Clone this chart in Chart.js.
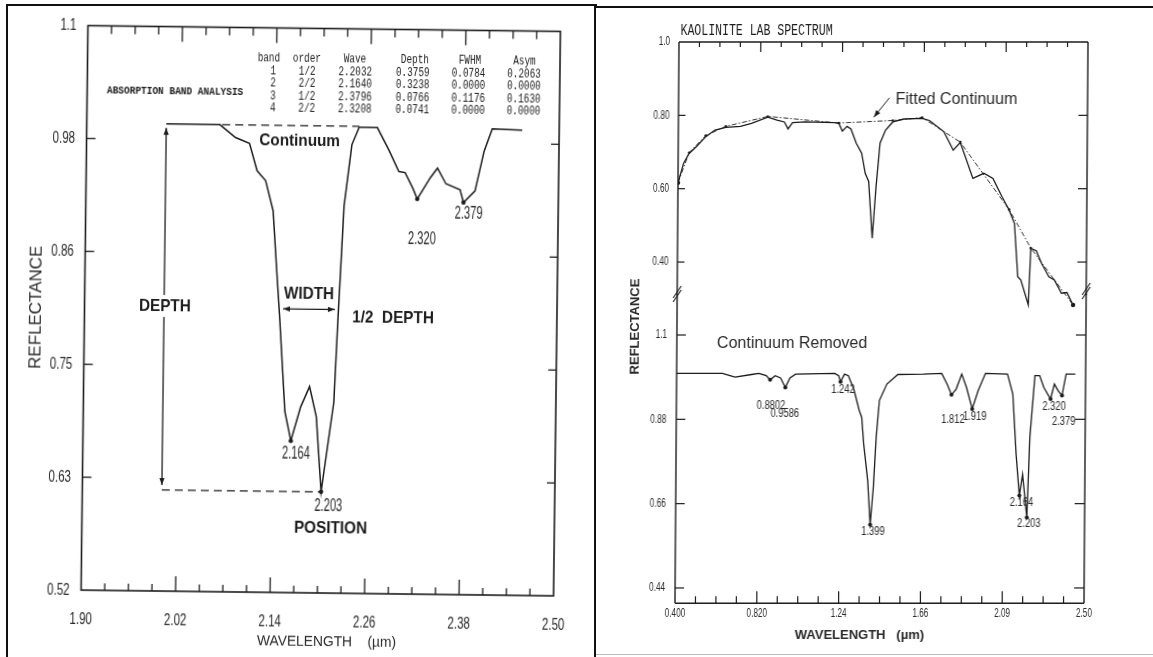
<!DOCTYPE html>
<html>
<head>
<meta charset="utf-8">
<title>Absorption band analysis – kaolinite</title>
<script src="https://cdn.jsdelivr.net/npm/chart.js@4.4.1/dist/chart.umd.min.js"></script>
<style>
html,body{margin:0;padding:0;background:#fff;}
body{width:1153px;height:657px;position:relative;overflow:hidden;}
#leftWrap{position:absolute;left:0;top:0;width:595px;height:657px;transform:rotate(0.7deg);transform-origin:320.75px 310.75px;}
#rightWrap{position:absolute;left:595px;top:0;width:558px;height:657px;transform:skewX(-0.41deg);transform-origin:0 322px;}
canvas{position:absolute;left:0;top:0;}
.fr{position:absolute;background:#111;}
</style>
</head>
<body>
<div id="leftWrap"><canvas id="cL" width="595" height="657"></canvas></div>
<div id="rightWrap"><canvas id="cRT" width="558" height="657"></canvas><canvas id="cRB" width="558" height="657"></canvas></div>
<div class="fr" style="left:6px;top:4px;width:591px;height:2px"></div>
<div class="fr" style="left:6px;top:4px;width:2px;height:653px"></div>
<div class="fr" style="left:594px;top:4px;width:2px;height:653px"></div>
<div class="fr" style="left:596px;top:6px;width:557px;height:2px"></div>
<div class="fr" style="left:596px;top:654px;width:557px;height:1px;background:#bbb"></div>
<script>
// ================= DATA =================
// Left panel: continuum-removed 2.0-2.45 µm region (absorption band analysis)
const leftWave = [2.001,2.069,2.089,2.107,2.117,2.128,2.138,2.143,2.148,2.156,2.164,2.176,2.187,2.196,2.2032,2.218,2.222,2.228,2.237,2.246,2.269,2.284,2.297,2.305,2.315,2.3208,2.337,2.346,2.357,2.375,2.3796,2.394,2.405,2.415,2.453];
const leftRefl = [1.000,1.000,0.987,0.981,0.953,0.943,0.912,0.856,0.802,0.706,0.676,0.711,0.732,0.701,0.624,0.716,0.802,0.918,0.981,0.999,0.999,0.976,0.954,0.953,0.937,0.926,0.948,0.958,0.942,0.936,0.923,0.935,0.976,0.999,0.998];
const leftMinWave = [2.164,2.2032,2.3208,2.3796];
const leftMinRefl = [0.676,0.624,0.926,0.923];
const leftMinLabels = ['2.164','2.203','2.320','2.379'];
const leftContWave = [2.072,2.246];
const leftContRefl = [1.000,1.000];
const leftBaseWave = [2.001,2.2032];
const leftBaseRefl = [0.624,0.624];

// Band analysis table
const tblHeader = ['band','order','Wave','Depth','FWHM','Asym'];
const bandNo    = ['1','2','3','4'];
const bandOrder = ['1/2','2/2','1/2','2/2'];
const bandWave  = ['2.2032','2.1640','2.3796','2.3208'];
const bandDepth = ['0.3759','0.3238','0.0766','0.0741'];
const bandFWHM  = ['0.0784','0.0000','0.1176','0.0000'];
const bandAsym  = ['0.2063','0.0000','0.1630','0.0000'];

// Left axes
const leftXTicks  = [1.90,2.02,2.14,2.26,2.38,2.50];
const leftXLabels = ['1.90','2.02','2.14','2.26','2.38','2.50'];
const leftXMinor  = [1.93,1.96,1.99,2.05,2.08,2.11,2.17,2.20,2.23,2.29,2.32,2.35,2.41,2.44,2.47];
const leftYTicks  = [0.52,0.636,0.752,0.868,0.984,1.10];
const leftYLabels = ['0.52','0.63','0.75','0.86','0.98','1.1'];

// Right panel, top: kaolinite lab spectrum + fitted continuum
const topWave = [0.400,0.428,0.456,0.494,0.541,0.588,0.644,0.719,0.775,0.859,0.906,0.944,0.963,0.986,1.051,1.201,1.224,1.242,1.266,1.286,1.314,1.342,1.361,1.379,1.399,1.417,1.436,1.464,1.501,1.558,1.651,1.689,1.764,1.812,1.848,1.867,1.914,1.970,2.017,2.064,2.101,2.129,2.148,2.164,2.203,2.214,2.242,2.270,2.308,2.336,2.373,2.401,2.433];
const topRefl = [0.616,0.669,0.696,0.715,0.742,0.760,0.767,0.770,0.778,0.795,0.787,0.782,0.763,0.780,0.782,0.780,0.778,0.757,0.770,0.763,0.724,0.697,0.642,0.620,0.465,0.605,0.724,0.760,0.782,0.790,0.792,0.786,0.755,0.705,0.726,0.698,0.628,0.642,0.628,0.578,0.542,0.505,0.360,0.351,0.283,0.437,0.431,0.396,0.360,0.351,0.315,0.317,0.283];
const contWave = [0.400,0.456,0.541,0.644,0.859,1.224,1.501,1.651,1.848,2.101,2.214,2.433];
const contRefl = [0.616,0.698,0.745,0.770,0.797,0.779,0.786,0.794,0.727,0.543,0.438,0.283];

// Right panel, bottom: continuum removed
const botWave = [0.400,0.635,0.700,0.785,0.822,0.860,0.8802,0.906,0.934,0.9586,0.982,1.011,1.212,1.232,1.242,1.262,1.282,1.310,1.339,1.352,1.363,1.385,1.399,1.414,1.427,1.442,1.480,1.536,1.667,1.761,1.789,1.812,1.836,1.864,1.889,1.919,1.949,1.986,2.099,2.127,2.146,2.164,2.180,2.2032,2.216,2.240,2.264,2.286,2.3208,2.340,2.359,2.3796,2.400,2.447];
const botRefl = [1.000,1.000,0.990,0.997,1.000,0.994,0.983,0.994,0.988,0.963,0.988,0.998,1.000,0.994,0.978,0.998,0.994,0.959,0.903,0.885,0.816,0.720,0.605,0.702,0.833,0.929,0.972,0.997,0.998,1.000,0.972,0.944,0.959,0.998,0.963,0.907,0.955,1.000,0.998,0.946,0.789,0.681,0.736,0.624,0.833,0.994,0.994,0.963,0.933,0.972,0.955,0.942,0.998,0.998];
const botMinWave = [0.8802,0.9586,1.242,1.399,1.812,1.919,2.164,2.2032,2.3208,2.3796];
const botMinRefl = [0.983,0.963,0.978,0.605,0.944,0.907,0.681,0.624,0.933,0.942];
const botMinLabels = ['0.8802','0.9586','1.242','1.399','1.812','1.919','2.164','2.203','2.320','2.379'];

// Right axes
const rightXTicks  = [0.40,0.82,1.24,1.66,2.08,2.50];
const rightXLabels = ['0.400','0.820','1.24','1.66','2.09','2.50'];
const rightXMinor  = [0.505,0.610,0.715,0.925,1.030,1.135,1.345,1.450,1.555,1.765,1.870,1.975,2.185,2.290,2.395];
const topYTicks  = [0.40,0.60,0.80,1.00];
const topYLabels = ['0.40','0.60','0.80','1.0'];
const botYTicks  = [0.44,0.66,0.88,1.10];
const botYLabels = ['0.44','0.66','0.88','1.1'];

// ================= ANNOTATION PLACEMENT (data coordinates) =================
const leftNotes = {
  continuum: [2.1706,0.9841], width: [2.1848,0.8268], depth: [2.002,0.8129],
  half: [2.2919,0.8037], position: [2.2158,0.5869], title: [1.9251,1.0331],
  minLabels: [[2.1707,0.6625],[2.2125,0.6095],[2.3272,0.8850],[2.3863,0.9112]],
  depthArrow: [2.001,0.996,0.629], widthArrow: [2.152,2.218,0.8115],
  hdrW: [2.1303,2.1786,2.2396,2.3157,2.3856,2.4549],
  valW: [2.1359,2.1791,2.2401,2.3131,2.3839,2.4544],
  hdrV: 1.0687, rowV: [1.0556,1.0427,1.0293,1.0173]
};
const rightNotes = {
  fitted: [1.5137,0.8418], fitArrow: [1.483,0.848,1.403,0.795],
  removed: [0.606,1.0765],
  minLabels: [[0.886,0.915],[0.957,0.894],[1.255,0.957],[1.414,0.586],[1.821,0.878],[1.932,0.886],[2.175,0.662],[2.214,0.607],[2.3395,0.912],[2.389,0.873]]
};

// ================= HELPERS =================
const INK = '#1c1c1c';
const SANS = '"Liberation Sans", Arial, Helvetica, sans-serif';
const MONO = '"Liberation Mono", "DejaVu Sans Mono", monospace';
const pts = (xs, ys) => xs.map((v, i) => ({x: v, y: ys[i]}));
function seg(ctx, x1, y1, x2, y2) { ctx.beginPath(); ctx.moveTo(x1, y1); ctx.lineTo(x2, y2); ctx.stroke(); }
function head(ctx, xt, yt, ang, len, half) {
  const c = Math.cos(ang), s = Math.sin(ang);
  ctx.beginPath(); ctx.moveTo(xt, yt);
  ctx.lineTo(xt - len * c + half * s, yt - len * s - half * c);
  ctx.lineTo(xt - len * c - half * s, yt - len * s + half * c);
  ctx.closePath(); ctx.fill();
}
function arrow(ctx, x1, y1, x2, y2, both) {
  seg(ctx, x1, y1, x2, y2);
  const a = Math.atan2(y2 - y1, x2 - x1);
  head(ctx, x2, y2, a, 7, 2.6);
  if (both) head(ctx, x1, y1, a + Math.PI, 7, 2.6);
}
function text(ctx, s, x, y, o) {
  ctx.save(); ctx.translate(x, y); if (o.rot) ctx.rotate(o.rot); ctx.scale(o.sx || 1, 1);
  ctx.font = o.font; ctx.textAlign = o.align || 'center'; ctx.textBaseline = 'middle';
  if (o.bg) {
    const w = ctx.measureText(s).width, h = o.bgH || 18;
    const x0 = ctx.textAlign === 'center' ? -w / 2 : (ctx.textAlign === 'right' ? -w : 0);
    ctx.fillStyle = o.bg; ctx.fillRect(x0 - 3, -h / 2, w + 6, h);
  }
  ctx.fillStyle = o.color || INK; ctx.fillText(s, 0, 0); ctx.restore();
}
function axisOpts(min, max, ticks, extra) {
  return Object.assign({
    type: 'linear', min, max, bounds: 'data',
    grid: {display: false, drawTicks: false}, border: {display: false},
    ticks: {display: false},
    afterBuildTicks: s => { s.ticks = ticks.map(v => ({value: v})); }
  }, extra || {});
}
function baseOptions(padding, xs, ys) {
  return {
    responsive: false, animation: false, events: [],
    layout: {padding},
    plugins: {legend: {display: false}, tooltip: {enabled: false}},
    scales: {x: xs, y: ys}
  };
}

// ================= LEFT CHART =================
const leftDecor = {
  id: 'leftDecor',
  afterDatasetsDraw(chart) {
    const {ctx, chartArea: a, scales: {x, y}} = chart;
    const X = v => x.getPixelForValue(v), Y = v => y.getPixelForValue(v);
    ctx.save();
    ctx.strokeStyle = INK; ctx.fillStyle = INK; ctx.setLineDash([]);
    ctx.lineWidth = 1.6;
    ctx.strokeRect(a.left, a.top, a.right - a.left, a.bottom - a.top);
    ctx.lineWidth = 1.3;
    x.ticks.forEach((t, i) => {
      if (i === 0 || i === x.ticks.length - 1) return;
      const p = X(t.value); seg(ctx, p, a.bottom, p, a.bottom - 15); seg(ctx, p, a.top, p, a.top + 15);
    });
    leftXMinor.forEach(v => { const p = X(v); seg(ctx, p, a.bottom, p, a.bottom - 7); seg(ctx, p, a.top, p, a.top + 8); });
    y.ticks.forEach((t, i) => {
      if (i === 0 || i === y.ticks.length - 1) return;
      const p = Y(t.value); seg(ctx, a.left, p, a.left + 9, p); seg(ctx, a.right - 8, p, a.right, p);
    });
    const tf = '17px ' + SANS;
    x.ticks.forEach((t, i) => text(ctx, leftXLabels[i], X(t.value), a.bottom + 29, {font: tf, sx: 0.68, color: '#2a2a2a'}));
    y.ticks.forEach((t, i) => text(ctx, leftYLabels[i], a.left - 11.5, Y(t.value), {font: tf, sx: 0.68, align: 'right', color: '#2a2a2a'}));
    // axis titles
    text(ctx, 'REFLECTANCE', a.left - 48, (a.top + a.bottom) / 2, {font: '17px ' + SANS, rot: -Math.PI / 2, color: '#2a2a2a'});
    text(ctx, 'WAVELENGTH    (µm)', a.left + 176.5, a.bottom + 49, {font: '15px ' + SANS, sx: 0.92, align: 'left', color: '#2a2a2a'});
    // arrows
    const N = leftNotes;
    arrow(ctx, X(N.depthArrow[0]), Y(N.depthArrow[1]), X(N.depthArrow[0]), Y(N.depthArrow[2]), true);
    arrow(ctx, X(N.widthArrow[0]), Y(N.widthArrow[2]), X(N.widthArrow[1]), Y(N.widthArrow[2]), true);
    // bold labels
    const bf = 'bold 17px ' + SANS;
    text(ctx, 'Continuum', X(N.continuum[0]), Y(N.continuum[1]), {font: bf, sx: 0.9});
    text(ctx, 'WIDTH', X(N.width[0]), Y(N.width[1]), {font: bf, sx: 0.9});
    text(ctx, 'DEPTH', X(N.depth[0]), Y(N.depth[1]), {font: bf, sx: 0.9, bg: '#fff', bgH: 22});
    text(ctx, '1/2  DEPTH', X(N.half[0]), Y(N.half[1]), {font: bf, sx: 0.9});
    text(ctx, 'POSITION', X(N.position[0]), Y(N.position[1]), {font: bf, sx: 0.9});
    // minima labels
    leftMinLabels.forEach((s, i) => text(ctx, s, X(N.minLabels[i][0]), Y(N.minLabels[i][1]), {font: '18px ' + SANS, sx: 0.62, color: '#2a2a2a'}));
    // table
    text(ctx, 'ABSORPTION BAND ANALYSIS', X(N.title[0]), Y(N.title[1]), {font: 'bold 11px ' + MONO, sx: 0.86, align: 'left'});
    const mf = '12px ' + MONO;
    tblHeader.forEach((s, c) => text(ctx, s, X(N.hdrW[c]), Y(N.hdrV), {font: mf, sx: 0.78}));
    const cols = [bandNo, bandOrder, bandWave, bandDepth, bandFWHM, bandAsym];
    cols.forEach((col, c) => col.forEach((s, r) => text(ctx, s, X(N.valW[c]), Y(N.rowV[r]), {font: mf, sx: 0.78})));
    ctx.restore();
  }
};

new Chart(document.getElementById('cL'), {
  type: 'scatter',
  data: {datasets: [
    {data: pts(leftWave, leftRefl), showLine: true, borderColor: INK, borderWidth: 1.5, pointRadius: 0, tension: 0},
    {data: pts(leftContWave, leftContRefl), showLine: true, borderColor: INK, borderWidth: 1.3, borderDash: [8, 5], pointRadius: 0},
    {data: pts(leftBaseWave, leftBaseRefl), showLine: true, borderColor: INK, borderWidth: 1.3, borderDash: [8, 5], pointRadius: 0},
    {data: pts(leftMinWave, leftMinRefl), showLine: false, pointRadius: 2.2, pointBackgroundColor: INK, pointBorderWidth: 0}
  ]},
  options: baseOptions({left: 0, top: 28.5, right: 38, bottom: 0},
    axisOpts(1.90, 2.50, leftXTicks, {afterFit: s => { s.height = 64; }}),
    axisOpts(0.52, 1.10, leftYTicks, {afterFit: s => { s.width = 84.5; }})),
  plugins: [leftDecor]
});

// ================= RIGHT TOP CHART =================
const BREAK_Y = 294;
function breakMark(ctx, x, y) {
  ctx.save(); ctx.lineWidth = 1.1;
  seg(ctx, x - 4, y + 4, x + 4, y - 8);
  seg(ctx, x - 4, y + 8, x + 4, y - 4);
  ctx.restore();
}
const topDecor = {
  id: 'topDecor',
  afterDatasetsDraw(chart) {
    const {ctx, chartArea: a, scales: {x, y}} = chart;
    const X = v => x.getPixelForValue(v), Y = v => y.getPixelForValue(v);
    ctx.save(); ctx.strokeStyle = INK; ctx.fillStyle = INK; ctx.setLineDash([]); ctx.lineWidth = 1.4;
    seg(ctx, a.left, a.top, a.right, a.top);
    seg(ctx, a.left, a.top, a.left, BREAK_Y + 1);
    seg(ctx, a.right, a.top, a.right, BREAK_Y + 1);
    ctx.lineWidth = 1.2;
    rightXTicks.slice(1, -1).forEach(v => { const p = X(v); seg(ctx, p, a.top, p, a.top + 10); });
    rightXMinor.forEach(v => { const p = X(v); seg(ctx, p, a.top, p, a.top + 5); });
    y.ticks.forEach(t => {
      if (t.value >= 1) return;
      const p = Y(t.value); seg(ctx, a.left, p, a.left + 7, p); seg(ctx, a.right - 9, p, a.right, p);
    });
    y.ticks.forEach((t, i) => text(ctx, topYLabels[i], a.left - 9, Y(t.value), {font: '12px ' + SANS, sx: 0.68, align: 'right', color: '#2a2a2a'}));
    text(ctx, 'KAOLINITE LAB SPECTRUM', a.left + 1.5, a.top - 11, {font: '16px ' + MONO, sx: 0.72, align: 'left'});
    const R = rightNotes;
    text(ctx, 'Fitted Continuum', X(R.fitted[0]), Y(R.fitted[1]), {font: '16px ' + SANS, align: 'left', color: '#2a2a2a'});
    ctx.lineWidth = 1;
    arrow(ctx, X(R.fitArrow[0]), Y(R.fitArrow[1]), X(R.fitArrow[2]), Y(R.fitArrow[3]), false);
    ctx.restore();
  }
};
new Chart(document.getElementById('cRT'), {
  type: 'scatter',
  data: {datasets: [
    {data: pts(topWave, topRefl), showLine: true, borderColor: INK, borderWidth: 1.3, pointRadius: 0, tension: 0},
    {data: pts(contWave, contRefl), showLine: true, borderColor: '#333', borderWidth: 1, borderDash: [5, 2, 1.5, 2], pointRadius: 1.3, pointBackgroundColor: INK, pointBorderWidth: 0},
    {data: [{x: topWave[0], y: topRefl[0]}, {x: topWave[topWave.length - 1], y: topRefl[topRefl.length - 1]}], showLine: false, pointRadius: 2.2, pointBackgroundColor: INK, pointBorderWidth: 0}
  ]},
  options: baseOptions({left: 0, top: 42, right: 67, bottom: 343.6},
    axisOpts(0.40, 2.50, rightXTicks, {display: false}),
    axisOpts(0.26, 1.00, topYTicks, {afterFit: s => { s.width = 82; }})),
  plugins: [topDecor]
});

// ================= RIGHT BOTTOM CHART =================
const botDecor = {
  id: 'botDecor',
  afterDatasetsDraw(chart) {
    const {ctx, chartArea: a, scales: {x, y}} = chart;
    const X = v => x.getPixelForValue(v), Y = v => y.getPixelForValue(v);
    ctx.save(); ctx.strokeStyle = INK; ctx.fillStyle = INK; ctx.setLineDash([]); ctx.lineWidth = 1.4;
    seg(ctx, a.left, BREAK_Y, a.left, a.bottom);
    seg(ctx, a.right, BREAK_Y, a.right, a.bottom);
    seg(ctx, a.left, a.bottom, a.right, a.bottom);
    breakMark(ctx, a.left, BREAK_Y); breakMark(ctx, a.right, BREAK_Y - 3);
    ctx.lineWidth = 1.2;
    rightXTicks.slice(1, -1).forEach(v => { const p = X(v); seg(ctx, p, a.bottom, p, a.bottom - 12); });
    rightXMinor.forEach(v => { const p = X(v); seg(ctx, p, a.bottom, p, a.bottom - 7); });
    y.ticks.forEach(t => { const p = Y(t.value); seg(ctx, a.left, p, a.left + 9, p); seg(ctx, a.right - 10, p, a.right, p); });
    const tf = '12px ' + SANS;
    x.ticks.forEach((t, i) => text(ctx, rightXLabels[i], X(t.value), a.bottom + 10, {font: tf, sx: 0.68, color: '#2a2a2a'}));
    y.ticks.forEach((t, i) => text(ctx, botYLabels[i], a.left - 10, Y(t.value), {font: tf, sx: 0.68, align: 'right', color: '#2a2a2a'}));
    text(ctx, 'REFLECTANCE', a.left - 42, 326.5, {font: 'bold 13px ' + SANS, rot: -Math.PI / 2, color: '#2a2a2a'});
    text(ctx, 'WAVELENGTH   (µm)', a.left + 120, a.bottom + 32, {font: 'bold 13px ' + SANS, align: 'left', color: '#2a2a2a'});
    const R = rightNotes;
    text(ctx, 'Continuum Removed', X(R.removed[0]), Y(R.removed[1]), {font: '16px ' + SANS, align: 'left', color: '#2a2a2a'});
    botMinLabels.forEach((s, i) => text(ctx, s, X(R.minLabels[i][0]), Y(R.minLabels[i][1]), {font: '12px ' + SANS, sx: 0.78, color: '#2a2a2a'}));
    ctx.restore();
  }
};
new Chart(document.getElementById('cRB'), {
  type: 'scatter',
  data: {datasets: [
    {data: pts(botWave, botRefl), showLine: true, borderColor: INK, borderWidth: 1.3, pointRadius: 0, tension: 0},
    {data: pts(botMinWave, botMinRefl), showLine: false, pointRadius: 2, pointBackgroundColor: INK, pointBorderWidth: 0}
  ]},
  options: baseOptions({left: 0, top: 295, right: 67, bottom: 0},
    axisOpts(0.40, 2.50, rightXTicks, {afterFit: s => { s.height = 53.7; }}),
    axisOpts(0.40, 1.2044, botYTicks, {afterFit: s => { s.width = 82; }})),
  plugins: [botDecor]
});
</script>
</body>
</html>
